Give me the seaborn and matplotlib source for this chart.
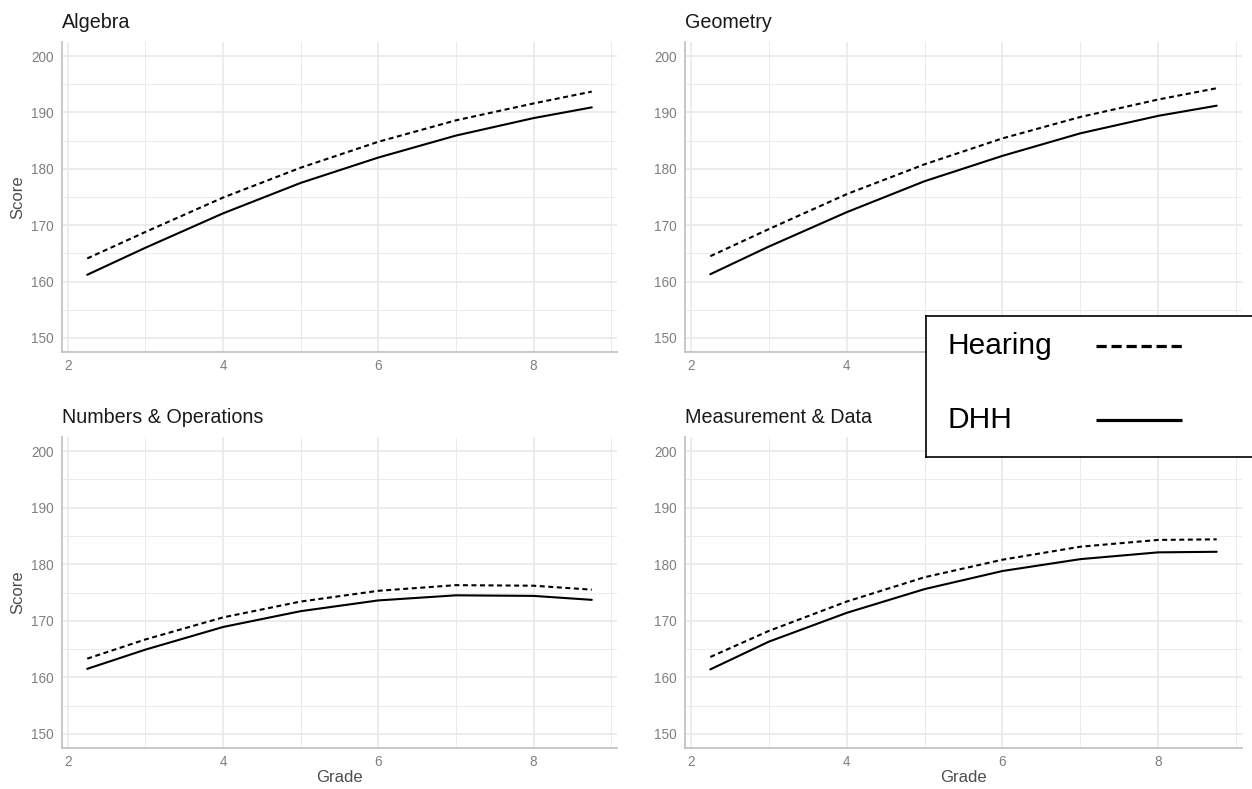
import numpy as np
import pandas as pd
import matplotlib
matplotlib.use("Agg")
import matplotlib.pyplot as plt
from matplotlib.ticker import MultipleLocator
import seaborn as sns

# ---------------- data ----------------
grades = [2.25, 3, 4, 5, 6, 7, 8, 8.75]
groups = ["Hearing", "DHH"]
subjects = ["Algebra", "Geometry", "Numbers & Operations", "Measurement & Data"]

algebra_dhh = [161.2, 166.0, 172.1, 177.5, 182.0, 185.9, 189.0, 190.9]
algebra_hearing = [164.1, 168.8, 174.9, 180.2, 184.8, 188.6, 191.6, 193.7]

geometry_dhh = [161.3, 166.2, 172.3, 177.8, 182.3, 186.3, 189.4, 191.2]
geometry_hearing = [164.5, 169.3, 175.5, 180.8, 185.4, 189.2, 192.3, 194.3]

numops_dhh = [161.5, 164.9, 168.9, 171.7, 173.6, 174.5, 174.4, 173.7]
numops_hearing = [163.3, 166.7, 170.6, 173.4, 175.3, 176.3, 176.2, 175.5]

measdata_dhh = [161.4, 166.3, 171.4, 175.6, 178.8, 180.9, 182.1, 182.2]
measdata_hearing = [163.6, 168.2, 173.4, 177.7, 180.8, 183.1, 184.3, 184.4]

x_ticks = [2, 4, 6, 8]
y_ticks = [150, 160, 170, 180, 190, 200]

series = {
    "Algebra": {"Hearing": algebra_hearing, "DHH": algebra_dhh},
    "Geometry": {"Hearing": geometry_hearing, "DHH": geometry_dhh},
    "Numbers & Operations": {"Hearing": numops_hearing, "DHH": numops_dhh},
    "Measurement & Data": {"Hearing": measdata_hearing, "DHH": measdata_dhh},
}

rows = []
for subj in subjects:
    for g in groups:
        for gr, sc in zip(grades, series[subj][g]):
            rows.append({"Subject": subj, "Group": g, "Grade": gr, "Score": sc})
df = pd.DataFrame(rows)

# ---------------- style ----------------
sns.set_theme(style="white")
plt.rcParams["font.family"] = ["Liberation Sans", "DejaVu Sans"]

W, H = 1252, 789
fig = plt.figure(figsize=(W / 100, H / 100), dpi=100)

def rect(l, t, r, b):
    return [l / W, 1 - b / H, (r - l) / W, (b - t) / H]

positions = {
    "Algebra": rect(62, 42, 617, 352),
    "Geometry": rect(685, 42, 1242, 352),
    "Numbers & Operations": rect(62, 437, 617, 748),
    "Measurement & Data": rect(685, 437, 1242, 748),
}

grid_c = "#ebebeb"
tick_c = "#7f7f7f"
label_c = "#4d4d4d"

for i, subj in enumerate(subjects):
    ax = fig.add_axes(positions[subj])
    sub = df[df["Subject"] == subj]
    sns.lineplot(
        data=sub, x="Grade", y="Score", style="Group",
        style_order=groups,
        dashes={"Hearing": (2.4, 1.7), "DHH": ""},
        color="black", linewidth=1.5, legend=False, ax=ax,
        estimator=None, sort=True,
    )
    ax.set_xlim(1.925, 9.075)
    ax.set_ylim(147.5, 202.5)
    ax.set_xticks(x_ticks)
    ax.set_yticks(y_ticks)
    ax.xaxis.set_minor_locator(MultipleLocator(1))
    ax.yaxis.set_minor_locator(MultipleLocator(5))
    ax.grid(which="major", color=grid_c, linewidth=1.3)
    ax.grid(which="minor", color=grid_c, linewidth=0.7)
    ax.set_axisbelow(True)
    for s in ["top", "right"]:
        ax.spines[s].set_visible(False)
    for s in ["left", "bottom"]:
        ax.spines[s].set_color("#c4c4c4")
        ax.spines[s].set_linewidth(1.3)
    ax.tick_params(which="both", length=0, labelsize=9.8, colors=tick_c)
    ax.tick_params(axis="y", pad=6)
    ax.tick_params(axis="x", pad=5)
    ax.set_title(subj, loc="left", fontsize=14.2, color="#1a1a1a", pad=10)
    if i % 2 == 0:
        ax.set_ylabel("Score", fontsize=12, color=label_c, labelpad=4)
    else:
        ax.set_ylabel("")
    if i >= 2:
        ax.set_xlabel("Grade", fontsize=12, color=label_c, labelpad=1)
    else:
        ax.set_xlabel("")

# ---------------- legend box (text first, key second) ----------------
lax = fig.add_axes(rect(926, 316, 1262, 457), zorder=10)
lax.set_xlim(0, 1)
lax.set_ylim(0, 1)
lax.set_xticks([])
lax.set_yticks([])
lax.set_facecolor("white")
for s in lax.spines.values():
    s.set_color("black")
    s.set_linewidth(1.2)
lax.grid(False)
ys = {"Hearing": 0.79, "DHH": 0.26}
for g in groups:
    lax.text(0.0625, ys[g], g, fontsize=21.5, color="black", va="center", ha="left")
    ln, = lax.plot([0.506, 0.762], [ys[g], ys[g]], color="black", linewidth=2.3,
                   solid_capstyle="butt", dash_capstyle="butt")
    if g == "Hearing":
        ln.set_dashes((3.2, 1.5))

fig.savefig("out.png", dpi=100)
